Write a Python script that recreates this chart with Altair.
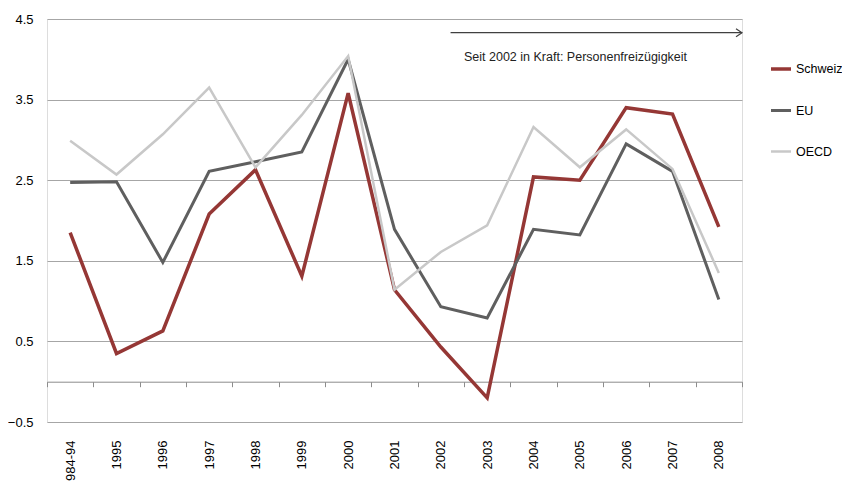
import altair as alt
import pandas as pd

categories = ["984-94", "1995", "1996", "1997", "1998", "1999", "2000", "2001",
              "2002", "2003", "2004", "2005", "2006", "2007", "2008"]
schweiz = [1.85, 0.35, 0.63, 2.08, 2.63, 1.31, 3.58, 1.14, 0.43, -0.20, 2.54, 2.50, 3.40, 3.32, 1.92]
eu = [2.47, 2.48, 1.48, 2.61, 2.73, 2.85, 4.00, 1.89, 0.93, 0.79, 1.89, 1.82, 2.95, 2.61, 1.02]
oecd = [2.99, 2.57, 3.07, 3.65, 2.66, 3.31, 4.04, 1.14, 1.61, 1.94, 3.16, 2.66, 3.13, 2.64, 1.35]
series_names = ["Schweiz", "EU", "OECD"]
series_colors = ["#953735", "#5f5f5f", "#c8c8c8"]
series_widths = [3.5, 2.5, 2.5]
y_ticks = [-0.5, 0.5, 1.5, 2.5, 3.5, 4.5]
note_text = "Seit 2002  in Kraft: Personenfreizügigkeit"

rows = []
for name, vals in zip(series_names, [schweiz, eu, oecd]):
    for c, v in zip(categories, vals):
        rows.append({"Jahr": c, "Wert": v, "Serie": name})
df = pd.DataFrame(rows)

W, H = 695, 403
ymin, ymax = -0.5, 4.5
zero_off = H * (0 - ymin) / (ymax - ymin)

FONT = "Liberation Sans"

x_scale = alt.Scale(domain=categories, paddingInner=0, paddingOuter=0)
x_enc = alt.X("Jahr:N", sort=categories, title=None, scale=x_scale,
              axis=alt.Axis(offset=-zero_off, domain=True, domainColor="#8c8c8c",
                            ticks=True, tickBand="extent", tickSize=5, tickColor="#8c8c8c",
                            labelAngle=-90, labelPadding=zero_off + 13,
                            labelFont=FONT, labelFontSize=13, labelColor="#000000",
                            labelOverlap=False, grid=False))
y_scale = alt.Scale(domain=[ymin, ymax], nice=False, zero=False)

lines = alt.Chart(df).mark_line(strokeJoin="miter").encode(
    x=x_enc,
    y=alt.Y("Wert:Q", scale=y_scale, title=None,
            axis=alt.Axis(values=y_ticks, format=".1f", grid=True, gridColor="#a6a6a6",
                          gridWidth=1.2, domain=False, ticks=False, labelPadding=14,
                          labelFont=FONT, labelFontSize=13, labelColor="#000000")),
    color=alt.Color("Serie:N", sort=series_names,
                    scale=alt.Scale(domain=series_names, range=series_colors),
                    legend=alt.Legend(title=None, orient="none", legendX=722, legendY=38,
                                      symbolType="stroke", symbolSize=400,
                                      symbolStrokeWidth=3, rowPadding=23, labelOffset=3,
                                      labelFont=FONT, labelFontSize=12.5, labelColor="#000000")),
    strokeWidth=alt.StrokeWidth("Serie:N", scale=alt.Scale(domain=series_names, range=series_widths),
                                legend=None),
    order=alt.Order("Serie:N"),
)

ann = pd.DataFrame({"Jahr": ["2002"], "Ende": ["2008"], "y": [4.33], "ty": [4.03], "t": [note_text]})

arrow = alt.Chart(ann).mark_rule(color="#404040", strokeWidth=1.2).encode(
    x=alt.X("Jahr:N", scale=x_scale, bandPosition=0.71),
    x2=alt.X2("Ende:N", bandPosition=1),
    y=alt.Y("y:Q", scale=y_scale),
)
head = alt.Chart(ann).mark_point(shape="M-1.5,-1L0,0L-1.5,1", size=64, filled=False,
                                 color="#404040", strokeWidth=1.2, opacity=1).encode(
    x=alt.X("Ende:N", scale=x_scale, bandPosition=1),
    y=alt.Y("y:Q", scale=y_scale),
)
note = alt.Chart(ann).mark_text(align="left", baseline="middle", font=FONT, fontSize=12.5,
                                color="#222222").encode(
    x=alt.X("Jahr:N", scale=x_scale, bandPosition=1),
    y=alt.Y("ty:Q", scale=y_scale),
    text="t:N",
)

chart = alt.layer(lines, arrow, head, note).properties(
    width=W, height=H,
    autosize=alt.AutoSizeParams(type="none"),
    padding={"left": 39, "top": 11, "right": 100, "bottom": 60},
).configure_view(stroke=None).configure(background="#ffffff")

chart.save("out.html", embed_options={"renderer": "svg", "actions": False})
